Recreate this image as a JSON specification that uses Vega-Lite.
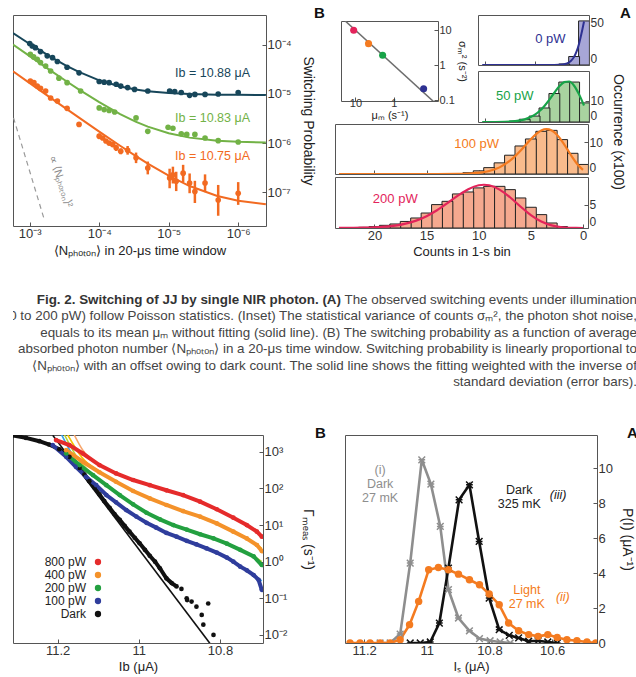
{
  "$schema": "https://vega.github.io/schema/vega-lite/v6.json",
  "background": "white",
  "padding": {"left": 12, "top": 5, "right": 0, "bottom": 0},
  "config": {
    "font": "Liberation Sans",
    "view": {"stroke": "#555", "strokeWidth": 1},
    "axis": {"domain": false, "grid": false, "tickColor": "#555", "tickSize": -4, "labelPadding": 5, "labelFontSize": 12, "labelColor": "#333", "labelFont": "Liberation Sans", "titleFont": "Liberation Sans", "titleFontSize": 13, "titleFontWeight": "normal", "titleColor": "#222"},
    "title": {"fontSize": 15, "fontWeight": "bold", "color": "#111", "offset": -6, "frame": "group", "font": "Liberation Sans"},
    "text": {"font": "Liberation Sans"}
  },
  "resolve": {"scale": {"color": "independent", "fill": "independent", "stroke": "independent"}},
  "spacing": 21,
  "vconcat": [
    {
      "resolve": {"scale": {"color": "independent", "fill": "independent", "stroke": "independent"}},
      "spacing": 8,
      "hconcat": [
        {
          "width": 253, "height": 211,
          "title": {"text": "B", "anchor": "end", "align": "left", "dx": 48},
          "layer": [
            {
              "data": {"values": [{"N": 0.00171, "P": 3.27e-6}, {"N": 0.000626, "P": 2.95e-8}]},
              "mark": {"type": "line", "color": "#9a9a9a", "strokeWidth": 1.2, "strokeDash": [5, 4], "clip": true},
              "encoding": {
                "x": {"field": "N", "type": "quantitative", "scale": {"type": "log", "domain": [3.98e-7, 0.00174], "reverse": true},
                  "axis": {"values": [0.000001, 0.00001, 0.0001, 0.001], "labelExpr": "'10' + (datum.value < 1 ? '⁻' : '') + ['⁰','¹','²','³','⁴','⁵','⁶','⁷','⁸','⁹'][abs(round(log(datum.value)/LN10))]", "labelFontSize": 13, "title": "⟨Nₚₕₒₜₒₙ⟩ in 20-μs time window", "titlePadding": 4}},
                "y": {"field": "P", "type": "quantitative", "scale": {"type": "log", "domain": [2.04e-8, 0.000407]},
                  "axis": {"orient": "right", "values": [1e-7, 0.000001, 0.00001, 0.0001], "labelExpr": "'10' + (datum.value < 1 ? '⁻' : '') + ['⁰','¹','²','³','⁴','⁵','⁶','⁷','⁸','⁹'][abs(round(log(datum.value)/LN10))]", "labelFontSize": 13, "title": "Switching Probability", "titleFontSize": 14, "titlePadding": 9}}
              }
            },
            {
              "data": {"values": [
                {"s": "10.88", "N": 0.00174, "P": 0.0001748}, {"s": "10.88", "N": 0.001, "P": 0.0001045}, {"s": "10.88", "N": 0.0005, "P": 0.000057}, {"s": "10.88", "N": 0.0003, "P": 0.000038}, {"s": "10.88", "N": 0.0002, "P": 0.0000285}, {"s": "10.88", "N": 0.0001, "P": 0.000019}, {"s": "10.88", "N": 0.00005, "P": 0.00001425}, {"s": "10.88", "N": 0.00003, "P": 0.00001235}, {"s": "10.88", "N": 0.00002, "P": 0.0000114}, {"s": "10.88", "N": 0.00001, "P": 0.00001045}, {"s": "10.88", "N": 0.000005, "P": 0.00000998}, {"s": "10.88", "N": 0.000002, "P": 0.00000969}, {"s": "10.88", "N": 0.000001, "P": 0.0000096}, {"s": "10.88", "N": 4e-7, "P": 0.00000954},
                {"s": "10.83", "N": 0.00174, "P": 0.0001019}, {"s": "10.83", "N": 0.001, "P": 0.000059}, {"s": "10.83", "N": 0.0005, "P": 0.00003}, {"s": "10.83", "N": 0.0003, "P": 0.0000184}, {"s": "10.83", "N": 0.0002, "P": 0.0000126}, {"s": "10.83", "N": 0.0001, "P": 0.0000068}, {"s": "10.83", "N": 0.00005, "P": 0.0000039}, {"s": "10.83", "N": 0.00003, "P": 0.00000274}, {"s": "10.83", "N": 0.00002, "P": 0.00000216}, {"s": "10.83", "N": 0.00001, "P": 0.00000158}, {"s": "10.83", "N": 0.000005, "P": 0.00000129}, {"s": "10.83", "N": 0.000002, "P": 0.000001116}, {"s": "10.83", "N": 0.000001, "P": 0.000001058}, {"s": "10.83", "N": 4e-7, "P": 0.000001023},
                {"s": "10.75", "N": 0.00174, "P": 0.00002893}, {"s": "10.75", "N": 0.001, "P": 0.00001665}, {"s": "10.75", "N": 0.0005, "P": 0.00000835}, {"s": "10.75", "N": 0.0003, "P": 0.00000503}, {"s": "10.75", "N": 0.0002, "P": 0.00000337}, {"s": "10.75", "N": 0.0001, "P": 0.00000171}, {"s": "10.75", "N": 0.00005, "P": 8.8e-7}, {"s": "10.75", "N": 0.00003, "P": 5.48e-7}, {"s": "10.75", "N": 0.00002, "P": 3.82e-7}, {"s": "10.75", "N": 0.00001, "P": 2.16e-7}, {"s": "10.75", "N": 0.000005, "P": 1.33e-7}, {"s": "10.75", "N": 0.000002, "P": 8.32e-8}, {"s": "10.75", "N": 0.000001, "P": 6.66e-8}, {"s": "10.75", "N": 4e-7, "P": 5.66e-8}
              ]},
              "mark": {"type": "line", "strokeWidth": 2, "clip": true},
              "encoding": {
                "x": {"field": "N", "type": "quantitative", "scale": {"type": "log", "domain": [3.98e-7, 0.00174], "reverse": true}},
                "y": {"field": "P", "type": "quantitative", "scale": {"type": "log", "domain": [2.04e-8, 0.000407]}},
                "color": {"field": "s", "type": "nominal", "scale": {"domain": ["10.88", "10.83", "10.75"], "range": ["#17465a", "#72b246", "#f26a21"]}, "legend": null}
              }
            },
            {
              "data": {"values": [
                {"N": 0.0001, "lo": 0.0000012, "hi": 0.00000155}, {"N": 0.000057, "lo": 6.9e-7, "hi": 9.2e-7}, {"N": 0.000049, "lo": 5.9e-7, "hi": 7.8e-7},
                {"N": 0.000039, "lo": 5.8e-7, "hi": 8.7e-7}, {"N": 0.0000295, "lo": 3.9e-7, "hi": 6.4e-7}, {"N": 0.00002, "lo": 2.3e-7, "hi": 4.2e-7},
                {"N": 0.0000097, "lo": 1.2e-7, "hi": 3.0e-7}, {"N": 0.0000087, "lo": 1.5e-7, "hi": 3.3e-7}, {"N": 0.0000078, "lo": 1.05e-7, "hi": 2.6e-7},
                {"N": 0.0000062, "lo": 1.6e-7, "hi": 3.6e-7}, {"N": 0.000005, "lo": 9.5e-8, "hi": 2.4e-7}, {"N": 0.0000042, "lo": 6e-8, "hi": 1.7e-7},
                {"N": 0.000003, "lo": 1.0e-7, "hi": 2.3e-7}, {"N": 0.00000194, "lo": 3.3e-8, "hi": 1.4e-7}, {"N": 0.000001, "lo": 5.5e-8, "hi": 1.6e-7}
              ]},
              "mark": {"type": "rule", "color": "#f26a21", "strokeWidth": 2.5, "clip": true},
              "encoding": {
                "x": {"field": "N", "type": "quantitative", "scale": {"type": "log", "domain": [3.98e-7, 0.00174], "reverse": true}},
                "y": {"field": "lo", "type": "quantitative", "scale": {"type": "log", "domain": [2.04e-8, 0.000407]}},
                "y2": {"field": "hi"}
              }
            },
            {
              "data": {"values": [
                {"s": "10.88", "N": 0.001, "P": 0.000107}, {"s": "10.88", "N": 0.00092, "P": 0.000095}, {"s": "10.88", "N": 0.00083, "P": 0.000088}, {"s": "10.88", "N": 0.0007, "P": 0.000073}, {"s": "10.88", "N": 0.00056, "P": 0.00006}, {"s": "10.88", "N": 0.00047, "P": 0.000055}, {"s": "10.88", "N": 0.0004, "P": 0.000046}, {"s": "10.88", "N": 0.00029, "P": 0.000035}, {"s": "10.88", "N": 0.000195, "P": 0.000027}, {"s": "10.88", "N": 0.0001, "P": 0.000018}, {"s": "10.88", "N": 0.000085, "P": 0.0000174}, {"s": "10.88", "N": 0.000072, "P": 0.000017}, {"s": "10.88", "N": 0.000057, "P": 0.0000158}, {"s": "10.88", "N": 0.000049, "P": 0.0000145}, {"s": "10.88", "N": 0.000039, "P": 0.0000135}, {"s": "10.88", "N": 0.000031, "P": 0.0000124}, {"s": "10.88", "N": 0.00002, "P": 0.0000115}, {"s": "10.88", "N": 0.0000097, "P": 0.0000115}, {"s": "10.88", "N": 0.0000082, "P": 0.0000112}, {"s": "10.88", "N": 0.0000066, "P": 0.0000107}, {"s": "10.88", "N": 0.000005, "P": 0.0000094}, {"s": "10.88", "N": 0.0000042, "P": 0.0000098}, {"s": "10.88", "N": 0.000003, "P": 0.0000098}, {"s": "10.88", "N": 0.00000194, "P": 0.00001}, {"s": "10.88", "N": 0.000001, "P": 0.0000107},
                {"s": "10.83", "N": 0.00098, "P": 0.000064}, {"s": "10.83", "N": 0.00088, "P": 0.000057}, {"s": "10.83", "N": 0.00078, "P": 0.000051}, {"s": "10.83", "N": 0.0007, "P": 0.0000436}, {"s": "10.83", "N": 0.00059, "P": 0.000037}, {"s": "10.83", "N": 0.0005, "P": 0.0000294}, {"s": "10.83", "N": 0.00038, "P": 0.000021}, {"s": "10.83", "N": 0.00029, "P": 0.000017}, {"s": "10.83", "N": 0.000185, "P": 0.0000115}, {"s": "10.83", "N": 0.0001, "P": 0.0000052}, {"s": "10.83", "N": 0.000085, "P": 0.0000048}, {"s": "10.83", "N": 0.000072, "P": 0.0000046}, {"s": "10.83", "N": 0.00006, "P": 0.0000043}, {"s": "10.83", "N": 0.0000295, "P": 0.00000325}, {"s": "10.83", "N": 0.00002, "P": 0.00000173}, {"s": "10.83", "N": 0.0000102, "P": 0.0000021}, {"s": "10.83", "N": 0.0000087, "P": 0.000002}, {"s": "10.83", "N": 0.0000066, "P": 0.00000154}, {"s": "10.83", "N": 0.0000055, "P": 0.0000015}, {"s": "10.83", "N": 0.0000042, "P": 0.0000015}, {"s": "10.83", "N": 0.000003, "P": 0.00000127}, {"s": "10.83", "N": 0.00000194, "P": 0.00000112}, {"s": "10.83", "N": 0.000001, "P": 0.00000105},
                {"s": "10.75", "N": 0.00098, "P": 0.0000183}, {"s": "10.75", "N": 0.00087, "P": 0.000017}, {"s": "10.75", "N": 0.00078, "P": 0.0000145}, {"s": "10.75", "N": 0.0007, "P": 0.000013}, {"s": "10.75", "N": 0.00059, "P": 0.0000115}, {"s": "10.75", "N": 0.0005, "P": 0.0000083}, {"s": "10.75", "N": 0.0004, "P": 0.0000072}, {"s": "10.75", "N": 0.00029, "P": 0.0000051}, {"s": "10.75", "N": 0.000195, "P": 0.0000024}, {"s": "10.75", "N": 0.0001, "P": 0.00000138}, {"s": "10.75", "N": 0.000089, "P": 0.00000127}, {"s": "10.75", "N": 0.00008, "P": 0.0000011}, {"s": "10.75", "N": 0.000072, "P": 0.000001}, {"s": "10.75", "N": 0.000064, "P": 9.3e-7}, {"s": "10.75", "N": 0.000057, "P": 8e-7}, {"s": "10.75", "N": 0.000049, "P": 6.8e-7}, {"s": "10.75", "N": 0.000039, "P": 7.1e-7}, {"s": "10.75", "N": 0.0000295, "P": 5e-7}, {"s": "10.75", "N": 0.00002, "P": 3.1e-7}, {"s": "10.75", "N": 0.0000097, "P": 1.94e-7}, {"s": "10.75", "N": 0.0000087, "P": 2.26e-7}, {"s": "10.75", "N": 0.0000078, "P": 1.66e-7}, {"s": "10.75", "N": 0.0000062, "P": 2.43e-7}, {"s": "10.75", "N": 0.000005, "P": 1.53e-7}, {"s": "10.75", "N": 0.0000042, "P": 1.03e-7}, {"s": "10.75", "N": 0.000003, "P": 1.53e-7}, {"s": "10.75", "N": 0.00000194, "P": 6.9e-8}, {"s": "10.75", "N": 0.000001, "P": 9.5e-8}
              ]},
              "mark": {"type": "circle", "size": 32, "opacity": 1, "clip": true},
              "encoding": {
                "x": {"field": "N", "type": "quantitative", "scale": {"type": "log", "domain": [3.98e-7, 0.00174], "reverse": true}},
                "y": {"field": "P", "type": "quantitative", "scale": {"type": "log", "domain": [2.04e-8, 0.000407]}},
                "color": {"field": "s", "type": "nominal", "scale": {"domain": ["10.88", "10.83", "10.75"], "range": ["#17465a", "#72b246", "#f26a21"]}, "legend": null}
              }
            },
            {
              "data": {"values": [{}]},
              "mark": {"type": "text", "text": "Ib = 10.88 μA", "color": "#17465a", "fontSize": 12.5, "align": "center", "baseline": "middle"},
              "encoding": {
                "x": {"datum": 0.00000234, "type": "quantitative", "scale": {"type": "log", "domain": [3.98e-7, 0.00174], "reverse": true}},
                "y": {"datum": 0.000027, "type": "quantitative", "scale": {"type": "log", "domain": [2.04e-8, 0.000407]}}
              }
            },
            {
              "data": {"values": [{}]},
              "mark": {"type": "text", "text": "Ib = 10.83 μA", "color": "#72b246", "fontSize": 12.5, "align": "center", "baseline": "middle"},
              "encoding": {
                "x": {"datum": 0.00000234, "type": "quantitative", "scale": {"type": "log", "domain": [3.98e-7, 0.00174], "reverse": true}},
                "y": {"datum": 0.0000032, "type": "quantitative", "scale": {"type": "log", "domain": [2.04e-8, 0.000407]}}
              }
            },
            {
              "data": {"values": [{}]},
              "mark": {"type": "text", "text": "Ib = 10.75 μA", "color": "#f26a21", "fontSize": 12.5, "align": "center", "baseline": "middle"},
              "encoding": {
                "x": {"datum": 0.00000234, "type": "quantitative", "scale": {"type": "log", "domain": [3.98e-7, 0.00174], "reverse": true}},
                "y": {"datum": 5.4e-7, "type": "quantitative", "scale": {"type": "log", "domain": [2.04e-8, 0.000407]}}
              }
            },
            {
              "data": {"values": [{}]},
              "mark": {"type": "text", "text": "∝ ⟨Nₚₕₒₜₒₙ⟩²", "color": "#8a8a8a", "fontSize": 11, "angle": 72, "align": "center", "baseline": "middle"},
              "encoding": {
                "x": {"datum": 0.00036, "type": "quantitative", "scale": {"type": "log", "domain": [3.98e-7, 0.00174], "reverse": true}},
                "y": {"datum": 1.66e-7, "type": "quantitative", "scale": {"type": "log", "domain": [2.04e-8, 0.000407]}}
              }
            }
          ]
        },
        {
          "title": {"text": "Occurrence (x100)", "orient": "right", "anchor": "middle", "frame": "bounds", "offset": -20, "fontSize": 14, "fontWeight": "normal", "color": "#222"},
          "spacing": 0,
          "vconcat": [
            {
              "spacing": 9,
              "hconcat": [
                {
                  "spacing": 4,
                  "hconcat": [
                    {"width": 1, "height": 1, "view": {"stroke": null}, "data": {"values": []}, "mark": "point", "encoding": {}},
                    {
                      "spacing": 4,
                      "vconcat": [
                        {"width": 1, "height": 1, "view": {"stroke": null}, "data": {"values": []}, "mark": "point", "encoding": {}},
                        {
                          "width": 97, "height": 80,
                          "layer": [
                            {
                              "data": {"values": [{"m": 0.05, "v": 0.05}, {"m": 30, "v": 30}]},
                              "mark": {"type": "line", "color": "#6d6d6d", "strokeWidth": 1.5, "clip": true},
                              "encoding": {
                                "x": {"field": "m", "type": "quantitative", "scale": {"type": "log", "domain": [0.07, 23.8], "reverse": true},
                                  "axis": {"values": [1, 10], "format": "~g", "labelFontSize": 11, "labelPadding": 0, "title": "μₘ (s⁻¹)", "titleFontSize": 11, "titleBaseline": "middle", "titleY": 14}},
                                "y": {"field": "v", "type": "quantitative", "scale": {"type": "log", "domain": [0.095, 18.4]},
                                  "axis": {"orient": "right", "values": [0.1, 1, 10], "format": "~g", "labelFontSize": 11, "title": "σₘ² (s⁻²)", "titleFontSize": 11, "titlePadding": 2}}
                              }
                            },
                            {
                              "data": {"values": [
                                {"m": 11.1, "v": 10, "p": "200 pW"}, {"m": 4.55, "v": 4.14, "p": "100 pW"}, {"m": 1.95, "v": 1.93, "p": "50 pW"}, {"m": 0.166, "v": 0.214, "p": "0 pW"}
                              ]},
                              "mark": {"type": "circle", "size": 50, "opacity": 1},
                              "encoding": {
                                "x": {"field": "m", "type": "quantitative", "scale": {"type": "log", "domain": [0.07, 23.8], "reverse": true}},
                                "y": {"field": "v", "type": "quantitative", "scale": {"type": "log", "domain": [0.095, 18.4]}},
                                "color": {"field": "p", "type": "nominal", "scale": {"domain": ["0 pW", "50 pW", "100 pW", "200 pW"], "range": ["#2e3192", "#17a348", "#f47b20", "#e3245b"]}, "legend": null}
                              }
                            }
                          ]
                        }
                      ]
                    }
                  ]
                },
                {
                  "spacing": 4,
                  "vconcat": [
                    {
                      "width": 111, "height": 50,
                      "title": {"text": "A", "anchor": "end", "align": "left", "dx": 31},
                      "layer": [
                        {
                          "data": {"values": [{"c": 0, "n": 52}, {"c": 1, "n": 10}, {"c": 2, "n": 1.2}]},
                          "mark": {"type": "bar", "orient": "vertical", "width": 10.86, "fill": "#a7a6d6", "stroke": "#222", "strokeWidth": 1, "clip": true},
                          "encoding": {
                            "x": {"field": "c", "type": "quantitative", "scale": {"domain": [0, 10.22], "reverse": true, "nice": false, "zero": false}, "axis": {"values": [0, 5, 10], "labels": false, "title": null}},
                            "y": {"field": "n", "type": "quantitative", "stack": null, "scale": {"domain": [0, 59], "nice": false}, "axis": {"orient": "right", "values": [0, 25, 50], "labelFlush": true, "title": null}}
                          }
                        },
                        {
                          "data": {"values": [{"c": 0, "n": 51.3}, {"c": 0.25, "n": 37.4}, {"c": 0.5, "n": 25.2}, {"c": 0.75, "n": 16.1}, {"c": 1, "n": 9.75}, {"c": 1.25, "n": 5.7}, {"c": 1.5, "n": 3.2}, {"c": 2, "n": 0.93}, {"c": 2.5, "n": 0.25}, {"c": 3, "n": 0.06}, {"c": 4, "n": 0.003}, {"c": 6, "n": 0}, {"c": 10.3, "n": 0}]},
                          "mark": {"type": "line", "color": "#2e3192", "strokeWidth": 2, "interpolate": "monotone", "clip": true},
                          "encoding": {
                            "x": {"field": "c", "type": "quantitative", "scale": {"domain": [0, 10.22], "reverse": true, "nice": false, "zero": false}},
                            "y": {"field": "n", "type": "quantitative", "scale": {"domain": [0, 59], "nice": false}}
                          }
                        },
                        {
                          "data": {"values": [{}]},
                          "mark": {"type": "text", "text": "0 pW", "color": "#2e3192", "fontSize": 13, "align": "center", "baseline": "middle"},
                          "encoding": {
                            "x": {"datum": 3.4, "type": "quantitative", "scale": {"domain": [0, 10.22], "reverse": true, "nice": false, "zero": false}},
                            "y": {"datum": 30.7, "type": "quantitative", "scale": {"domain": [0, 59], "nice": false}}
                          }
                        }
                      ]
                    },
                    {
                      "width": 111, "height": 51,
                      "layer": [
                        {
                          "data": {"values": [{"c": 0, "n": 9}, {"c": 1, "n": 18.8}, {"c": 2, "n": 18.8}, {"c": 3, "n": 13.4}, {"c": 4, "n": 6.6}, {"c": 5, "n": 2.8}, {"c": 6, "n": 1.3}, {"c": 7, "n": 0.4}]},
                          "mark": {"type": "bar", "orient": "vertical", "width": 10.86, "fill": "#a9d3a0", "stroke": "#222", "strokeWidth": 1, "clip": true},
                          "encoding": {
                            "x": {"field": "c", "type": "quantitative", "scale": {"domain": [0, 10.22], "reverse": true, "nice": false, "zero": false}, "axis": {"values": [0, 5, 10], "labels": false, "title": null}},
                            "y": {"field": "n", "type": "quantitative", "stack": null, "scale": {"domain": [0, 24], "nice": false}, "axis": {"orient": "right", "values": [0, 10], "labelFlush": true, "title": null}}
                          }
                        },
                        {
                          "data": {"values": [{"c": 0, "n": 7.76}, {"c": 0.5, "n": 13}, {"c": 1, "n": 17.07}, {"c": 1.5, "n": 19.05}, {"c": 2, "n": 18.78}, {"c": 2.5, "n": 16.77}, {"c": 3, "n": 13.77}, {"c": 3.5, "n": 10.54}, {"c": 4, "n": 7.57}, {"c": 4.5, "n": 5.15}, {"c": 5, "n": 3.33}, {"c": 6, "n": 1.22}, {"c": 7, "n": 0.38}, {"c": 8, "n": 0.11}, {"c": 10.3, "n": 0.005}]},
                          "mark": {"type": "line", "color": "#17a348", "strokeWidth": 2.2, "interpolate": "monotone", "clip": true},
                          "encoding": {
                            "x": {"field": "c", "type": "quantitative", "scale": {"domain": [0, 10.22], "reverse": true, "nice": false, "zero": false}},
                            "y": {"field": "n", "type": "quantitative", "scale": {"domain": [0, 24], "nice": false}}
                          }
                        },
                        {
                          "data": {"values": [{}]},
                          "mark": {"type": "text", "text": "50 pW", "color": "#17a348", "fontSize": 13, "align": "center", "baseline": "middle"},
                          "encoding": {
                            "x": {"datum": 7.0, "type": "quantitative", "scale": {"domain": [0, 10.22], "reverse": true, "nice": false, "zero": false}},
                            "y": {"datum": 12.2, "type": "quantitative", "scale": {"domain": [0, 24], "nice": false}}
                          }
                        }
                      ]
                    }
                  ]
                }
              ]
            },
            {
              "spacing": 1,
              "vconcat": [
                {
                  "width": 253, "height": 50,
                  "layer": [
                    {
                      "data": {"values": [{"c": 0, "n": 3}, {"c": 1, "n": 6.5}, {"c": 2, "n": 10.8}, {"c": 3, "n": 13.7}, {"c": 4, "n": 13.4}, {"c": 5, "n": 11.0}, {"c": 6, "n": 8.8}, {"c": 7, "n": 5.9}, {"c": 8, "n": 3.5}, {"c": 9, "n": 2.0}, {"c": 10, "n": 1.0}, {"c": 11, "n": 0.4}, {"c": 12, "n": 0.15}]},
                      "mark": {"type": "bar", "orient": "vertical", "width": 10.86, "fill": "#f9bb8c", "stroke": "#222", "strokeWidth": 1, "clip": true},
                      "encoding": {
                        "x": {"field": "c", "type": "quantitative", "scale": {"domain": [0, 23.3], "reverse": true, "nice": false, "zero": false}, "axis": {"values": [0, 5, 10, 15, 20], "labels": false, "title": null}},
                        "y": {"field": "n", "type": "quantitative", "stack": null, "scale": {"domain": [0, 15.7], "nice": false}, "axis": {"orient": "right", "values": [0, 10], "labelFlush": true, "title": null}}
                      }
                    },
                    {
                      "data": {"values": [{"c": 0, "n": 1.28}, {"c": 0.5, "n": 2.89}, {"c": 1, "n": 5.13}, {"c": 1.5, "n": 7.72}, {"c": 2, "n": 10.26}, {"c": 2.5, "n": 12.35}, {"c": 3, "n": 13.68}, {"c": 3.5, "n": 14.1}, {"c": 4, "n": 13.68}, {"c": 4.5, "n": 12.54}, {"c": 5, "n": 10.94}, {"c": 5.5, "n": 9.12}, {"c": 6, "n": 7.3}, {"c": 6.5, "n": 5.61}, {"c": 7, "n": 4.17}, {"c": 8, "n": 2.08}, {"c": 9, "n": 0.93}, {"c": 10, "n": 0.37}, {"c": 11, "n": 0.135}, {"c": 12, "n": 0.045}, {"c": 14, "n": 0.004}, {"c": 23.4, "n": 0}]},
                      "mark": {"type": "line", "color": "#f47b20", "strokeWidth": 2.2, "interpolate": "monotone", "clip": true},
                      "encoding": {
                        "x": {"field": "c", "type": "quantitative", "scale": {"domain": [0, 23.3], "reverse": true, "nice": false, "zero": false}},
                        "y": {"field": "n", "type": "quantitative", "scale": {"domain": [0, 15.7], "nice": false}}
                      }
                    },
                    {
                      "data": {"values": [{}]},
                      "mark": {"type": "text", "text": "100 pW", "color": "#f47b20", "fontSize": 13, "align": "center", "baseline": "middle"},
                      "encoding": {
                        "x": {"datum": 10.2, "type": "quantitative", "scale": {"domain": [0, 23.3], "reverse": true, "nice": false, "zero": false}},
                        "y": {"datum": 9.5, "type": "quantitative", "scale": {"domain": [0, 15.7], "nice": false}}
                      }
                    }
                  ]
                },
                {
                  "width": 253, "height": 51,
                  "layer": [
                    {
                      "data": {"values": [{"c": 1, "n": 0.05}, {"c": 2, "n": 0.3}, {"c": 3, "n": 1.07}, {"c": 4, "n": 2.86}, {"c": 5, "n": 4.43}, {"c": 6, "n": 6.42}, {"c": 7, "n": 8.2}, {"c": 8, "n": 8.9}, {"c": 9, "n": 8.9}, {"c": 10, "n": 8.57}, {"c": 11, "n": 7.7}, {"c": 12, "n": 7.28}, {"c": 13, "n": 5.7}, {"c": 14, "n": 5.0}, {"c": 15, "n": 3.2}, {"c": 16, "n": 2.14}, {"c": 17, "n": 1.4}, {"c": 18, "n": 0.86}, {"c": 19, "n": 0.57}, {"c": 20, "n": 0.3}, {"c": 21, "n": 0.15}, {"c": 22, "n": 0.05}]},
                      "mark": {"type": "bar", "orient": "vertical", "width": 10.86, "fill": "#f5a98f", "stroke": "#222", "strokeWidth": 1, "clip": true},
                      "encoding": {
                        "x": {"field": "c", "type": "quantitative", "scale": {"domain": [0, 23.3], "reverse": true, "nice": false, "zero": false}, "axis": {"values": [0, 5, 10, 15, 20], "labelFontSize": 13, "title": "Counts in 1-s bin", "titlePadding": 3}},
                        "y": {"field": "n", "type": "quantitative", "stack": null, "scale": {"domain": [0, 10.9], "nice": false}, "axis": {"orient": "right", "values": [0, 5], "labelFlush": true, "title": null}}
                      }
                    },
                    {
                      "data": {"values": [{"c": 0, "n": 0}, {"c": 1, "n": 0.02}, {"c": 2, "n": 0.166}, {"c": 3, "n": 0.552}, {"c": 4, "n": 1.38}, {"c": 5, "n": 2.76}, {"c": 6, "n": 4.6}, {"c": 7, "n": 6.57}, {"c": 8, "n": 8.21}, {"c": 9, "n": 9.13}, {"c": 9.5, "n": 9.24}, {"c": 10, "n": 9.13}, {"c": 11, "n": 8.3}, {"c": 12, "n": 6.92}, {"c": 13, "n": 5.32}, {"c": 14, "n": 3.8}, {"c": 15, "n": 2.53}, {"c": 16, "n": 1.58}, {"c": 17, "n": 0.94}, {"c": 18, "n": 0.51}, {"c": 19, "n": 0.28}, {"c": 20, "n": 0.13}, {"c": 21, "n": 0.06}, {"c": 22, "n": 0.03}, {"c": 23.4, "n": 0.01}]},
                      "mark": {"type": "line", "color": "#e3245b", "strokeWidth": 2.2, "interpolate": "monotone", "clip": true},
                      "encoding": {
                        "x": {"field": "c", "type": "quantitative", "scale": {"domain": [0, 23.3], "reverse": true, "nice": false, "zero": false}},
                        "y": {"field": "n", "type": "quantitative", "scale": {"domain": [0, 10.9], "nice": false}}
                      }
                    },
                    {
                      "data": {"values": [{}]},
                      "mark": {"type": "text", "text": "200 pW", "color": "#e3245b", "fontSize": 13, "align": "center", "baseline": "middle"},
                      "encoding": {
                        "x": {"datum": 18.0, "type": "quantitative", "scale": {"domain": [0, 23.3], "reverse": true, "nice": false, "zero": false}},
                        "y": {"datum": 6.3, "type": "quantitative", "scale": {"domain": [0, 10.9], "nice": false}}
                      }
                    }
                  ]
                }
              ]
            }
          ]
        }
      ]
    },
    {
      "width": 624, "height": 124,
      "view": {"stroke": null},
      "layer": [
        {
          "data": {"values": [
            {"line": 1, "text": "The observed switching events under illumination"},
            {"line": 2, "text": "(0 to 200 pW) follow Poisson statistics. (Inset) The statistical variance of counts σₘ², the photon shot noise,"},
            {"line": 3, "text": "equals to its mean μₘ without fitting (solid line). (B) The switching probability as a function of average"},
            {"line": 4, "text": "absorbed photon number ⟨Nₚₕₒₜₒₙ⟩ in a 20-μs time window. Switching probability is linearly proportional to"},
            {"line": 5, "text": "⟨Nₚₕₒₜₒₙ⟩ with an offset owing to dark count. The solid line shows the fitting weighted with the inverse of"},
            {"line": 6, "text": "standard deviation (error bars)."}
          ]},
          "mark": {"type": "text", "align": "right", "baseline": "middle", "fontSize": 13.4, "color": "#444", "clip": true},
          "encoding": {
            "x": {"datum": 1, "type": "quantitative", "scale": {"domain": [0, 1]}, "axis": null},
            "y": {"field": "line", "type": "quantitative", "scale": {"domain": [-0.22, 7.341], "reverse": true, "nice": false, "zero": false}, "axis": null},
            "text": {"field": "text"}
          }
        },
        {
          "data": {"values": [{"line": 1, "text": "Fig. 2. Switching of JJ by single NIR photon. (A)"}]},
          "mark": {"type": "text", "align": "right", "baseline": "middle", "fontSize": 13.4, "fontWeight": "bold", "color": "#333", "dx": -296, "clip": true},
          "encoding": {
            "x": {"datum": 1, "type": "quantitative", "scale": {"domain": [0, 1]}},
            "y": {"field": "line", "type": "quantitative", "scale": {"domain": [-0.22, 7.341], "reverse": true, "nice": false, "zero": false}},
            "text": {"field": "text"}
          }
        }
      ]
    },
    {
      "resolve": {"scale": {"color": "independent", "fill": "independent", "stroke": "independent"}},
      "spacing": 17,
      "hconcat": [
        {
          "width": 250, "height": 208,
          "title": {"text": "B", "anchor": "end", "align": "left", "dx": 52},
          "layer": [
            {
              "data": {"values": [
                {"s": "Dark", "I": 11.212, "G": 2818}, {"s": "Dark", "I": 10.825, "G": 0.0059},
                {"s": "100 pW", "I": 11.19, "G": 2880}, {"s": "100 pW", "I": 11.16, "G": 700}, {"s": "100 pW", "I": 11.13, "G": 220}, {"s": "100 pW", "I": 11.1, "G": 100}, {"s": "100 pW", "I": 11.056, "G": 42}, {"s": "100 pW", "I": 11.006, "G": 17}, {"s": "100 pW", "I": 10.957, "G": 8.5}, {"s": "100 pW", "I": 10.907, "G": 4.8}, {"s": "100 pW", "I": 10.858, "G": 2.95}, {"s": "100 pW", "I": 10.808, "G": 1.77}, {"s": "100 pW", "I": 10.767, "G": 1.0}, {"s": "100 pW", "I": 10.734, "G": 0.6}, {"s": "100 pW", "I": 10.697, "G": 0.3},
                {"s": "200 pW", "I": 11.183, "G": 2880}, {"s": "200 pW", "I": 11.15, "G": 650}, {"s": "200 pW", "I": 11.113, "G": 240}, {"s": "200 pW", "I": 11.08, "G": 125}, {"s": "200 pW", "I": 11.047, "G": 66}, {"s": "200 pW", "I": 11.014, "G": 37}, {"s": "200 pW", "I": 10.981, "G": 22}, {"s": "200 pW", "I": 10.948, "G": 14.5}, {"s": "200 pW", "I": 10.915, "G": 10.2}, {"s": "200 pW", "I": 10.882, "G": 7.6}, {"s": "200 pW", "I": 10.849, "G": 5.7}, {"s": "200 pW", "I": 10.816, "G": 4.3}, {"s": "200 pW", "I": 10.783, "G": 3.1}, {"s": "200 pW", "I": 10.75, "G": 2.15}, {"s": "200 pW", "I": 10.717, "G": 1.4}, {"s": "200 pW", "I": 10.697, "G": 1.0},
                {"s": "400 pW", "I": 11.175, "G": 2880}, {"s": "400 pW", "I": 11.14, "G": 700}, {"s": "400 pW", "I": 11.097, "G": 290}, {"s": "400 pW", "I": 11.056, "G": 155}, {"s": "400 pW", "I": 11.014, "G": 87}, {"s": "400 pW", "I": 10.973, "G": 54}, {"s": "400 pW", "I": 10.932, "G": 35.5}, {"s": "400 pW", "I": 10.891, "G": 24.5}, {"s": "400 pW", "I": 10.849, "G": 17}, {"s": "400 pW", "I": 10.808, "G": 11.2}, {"s": "400 pW", "I": 10.767, "G": 6.8}, {"s": "400 pW", "I": 10.734, "G": 4.4}, {"s": "400 pW", "I": 10.697, "G": 2.3},
                {"s": "800 pW", "I": 11.159, "G": 2880}, {"s": "800 pW", "I": 11.138, "G": 1100}, {"s": "800 pW", "I": 11.097, "G": 450}, {"s": "800 pW", "I": 11.056, "G": 260}, {"s": "800 pW", "I": 11.014, "G": 172}, {"s": "800 pW", "I": 10.973, "G": 124}, {"s": "800 pW", "I": 10.932, "G": 90}, {"s": "800 pW", "I": 10.891, "G": 66}, {"s": "800 pW", "I": 10.849, "G": 44}, {"s": "800 pW", "I": 10.808, "G": 27.5}, {"s": "800 pW", "I": 10.767, "G": 16}, {"s": "800 pW", "I": 10.734, "G": 10.2}, {"s": "800 pW", "I": 10.697, "G": 5.2}
              ]},
              "mark": {"type": "line", "strokeWidth": 1.6, "clip": true, "interpolate": "monotone"},
              "encoding": {
                "x": {"field": "I", "type": "quantitative", "scale": {"domain": [10.694, 11.31], "reverse": true, "nice": false, "zero": false},
                  "axis": {"values": [10.8, 11, 11.2], "format": "~g", "labelFontSize": 13, "title": "Ib (μA)", "titlePadding": 3}},
                "y": {"field": "G", "type": "quantitative", "scale": {"type": "log", "domain": [0.006, 2880]},
                  "axis": {"orient": "right", "values": [0.01, 0.1, 1, 10, 100, 1000], "labelExpr": "'10' + (datum.value < 1 ? '⁻' : '') + ['⁰','¹','²','³','⁴','⁵','⁶','⁷','⁸','⁹'][abs(round(log(datum.value)/LN10))]", "labelFontSize": 13, "title": "Γₘₑₐₛ (s⁻¹)", "titleFontSize": 14, "titlePadding": 14}},
                "stroke": {"field": "s", "type": "nominal", "scale": {"domain": ["800 pW", "400 pW", "200 pW", "100 pW", "Dark"], "range": ["#f7a66b", "#f5c400", "#b5d334", "#36a3e8", "#111111"]}, "legend": null}
              }
            },
            {
              "data": {"values": [
                {"s": "Dark", "I": 11.311, "G": 2830}, {"s": "Dark", "I": 11.278, "G": 2400}, {"s": "Dark", "I": 11.245, "G": 1950}, {"s": "Dark", "I": 11.221, "G": 1585}, {"s": "Dark", "I": 11.196, "G": 1175}, {"s": "Dark", "I": 11.171, "G": 730}, {"s": "Dark", "I": 11.146, "G": 363}, {"s": "Dark", "I": 11.134, "G": 240}, {"s": "Dark", "I": 11.122, "G": 158}, {"s": "Dark", "I": 11.109, "G": 105}, {"s": "Dark", "I": 11.097, "G": 69}, {"s": "Dark", "I": 11.085, "G": 45}, {"s": "Dark", "I": 11.072, "G": 29.5}, {"s": "Dark", "I": 11.06, "G": 20}, {"s": "Dark", "I": 11.047, "G": 13.8}, {"s": "Dark", "I": 11.035, "G": 9.5}, {"s": "Dark", "I": 11.023, "G": 6.6}, {"s": "Dark", "I": 11.01, "G": 4.5}, {"s": "Dark", "I": 10.998, "G": 3.16}, {"s": "Dark", "I": 10.985, "G": 2.1}, {"s": "Dark", "I": 10.973, "G": 1.45}, {"s": "Dark", "I": 10.96, "G": 1.0}, {"s": "Dark", "I": 10.948, "G": 0.66}, {"s": "Dark", "I": 10.932, "G": 0.35}, {"s": "Dark", "I": 10.919, "G": 0.26}, {"s": "Dark", "I": 10.907, "G": 0.21}, {"s": "Dark", "I": 10.895, "G": 0.18}, {"s": "Dark", "I": 10.882, "G": 0.1}, {"s": "Dark", "I": 10.881, "G": 0.089}, {"s": "Dark", "I": 10.87, "G": 0.081}, {"s": "Dark", "I": 10.858, "G": 0.059}, {"s": "Dark", "I": 10.845, "G": 0.035}, {"s": "Dark", "I": 10.841, "G": 0.019}, {"s": "Dark", "I": 10.829, "G": 0.072}, {"s": "Dark", "I": 10.816, "G": 0.01},
                {"s": "100 pW", "I": 11.212, "G": 1520}, {"s": "100 pW", "I": 11.179, "G": 730}, {"s": "100 pW", "I": 11.155, "G": 390}, {"s": "100 pW", "I": 11.13, "G": 208}, {"s": "100 pW", "I": 11.105, "G": 123}, {"s": "100 pW", "I": 11.08, "G": 66}, {"s": "100 pW", "I": 11.056, "G": 41.7}, {"s": "100 pW", "I": 11.031, "G": 25.7}, {"s": "100 pW", "I": 11.006, "G": 17}, {"s": "100 pW", "I": 10.981, "G": 11.5}, {"s": "100 pW", "I": 10.957, "G": 8.5}, {"s": "100 pW", "I": 10.932, "G": 6.1}, {"s": "100 pW", "I": 10.907, "G": 4.8}, {"s": "100 pW", "I": 10.882, "G": 3.7}, {"s": "100 pW", "I": 10.858, "G": 2.95}, {"s": "100 pW", "I": 10.833, "G": 2.3}, {"s": "100 pW", "I": 10.808, "G": 1.77}, {"s": "100 pW", "I": 10.783, "G": 1.29}, {"s": "100 pW", "I": 10.767, "G": 1.0}, {"s": "100 pW", "I": 10.75, "G": 0.73}, {"s": "100 pW", "I": 10.734, "G": 0.58}, {"s": "100 pW", "I": 10.717, "G": 0.43}, {"s": "100 pW", "I": 10.705, "G": 0.32}, {"s": "100 pW", "I": 10.697, "G": 0.17},
                {"s": "200 pW", "I": 11.179, "G": 900}, {"s": "200 pW", "I": 11.146, "G": 434}, {"s": "200 pW", "I": 11.113, "G": 231}, {"s": "200 pW", "I": 11.08, "G": 123}, {"s": "200 pW", "I": 11.047, "G": 66}, {"s": "200 pW", "I": 11.014, "G": 36.7}, {"s": "200 pW", "I": 10.981, "G": 21.7}, {"s": "200 pW", "I": 10.948, "G": 14.3}, {"s": "200 pW", "I": 10.915, "G": 10}, {"s": "200 pW", "I": 10.882, "G": 7.5}, {"s": "200 pW", "I": 10.849, "G": 5.6}, {"s": "200 pW", "I": 10.816, "G": 4.3}, {"s": "200 pW", "I": 10.783, "G": 3.1}, {"s": "200 pW", "I": 10.75, "G": 2.1}, {"s": "200 pW", "I": 10.717, "G": 1.39}, {"s": "200 pW", "I": 10.697, "G": 0.81},
                {"s": "400 pW", "I": 11.179, "G": 1110}, {"s": "400 pW", "I": 11.138, "G": 535}, {"s": "400 pW", "I": 11.097, "G": 277}, {"s": "400 pW", "I": 11.056, "G": 152}, {"s": "400 pW", "I": 11.014, "G": 85}, {"s": "400 pW", "I": 10.973, "G": 53.5}, {"s": "400 pW", "I": 10.932, "G": 35.3}, {"s": "400 pW", "I": 10.891, "G": 24}, {"s": "400 pW", "I": 10.849, "G": 17}, {"s": "400 pW", "I": 10.808, "G": 11.1}, {"s": "400 pW", "I": 10.767, "G": 6.6}, {"s": "400 pW", "I": 10.734, "G": 4.3}, {"s": "400 pW", "I": 10.709, "G": 2.85}, {"s": "400 pW", "I": 10.697, "G": 1.95},
                {"s": "800 pW", "I": 11.204, "G": 2090}, {"s": "800 pW", "I": 11.171, "G": 1520}, {"s": "800 pW", "I": 11.138, "G": 900}, {"s": "800 pW", "I": 11.097, "G": 434}, {"s": "800 pW", "I": 11.056, "G": 257}, {"s": "800 pW", "I": 11.014, "G": 170}, {"s": "800 pW", "I": 10.973, "G": 123}, {"s": "800 pW", "I": 10.932, "G": 89}, {"s": "800 pW", "I": 10.891, "G": 66}, {"s": "800 pW", "I": 10.849, "G": 43.5}, {"s": "800 pW", "I": 10.808, "G": 27}, {"s": "800 pW", "I": 10.767, "G": 15.9}, {"s": "800 pW", "I": 10.734, "G": 10}, {"s": "800 pW", "I": 10.709, "G": 6.6}, {"s": "800 pW", "I": 10.697, "G": 4.8}
              ]},
              "layer": [
                {
                  "transform": [{"filter": "datum.s != 'Dark' || datum.I > 10.9"}],
                  "mark": {"type": "line", "strokeWidth": 4, "clip": true},
                  "encoding": {
                    "x": {"field": "I", "type": "quantitative", "scale": {"domain": [10.694, 11.31], "reverse": true, "nice": false, "zero": false}},
                    "y": {"field": "G", "type": "quantitative", "scale": {"type": "log", "domain": [0.006, 2880]}},
                    "color": {"field": "s", "type": "nominal", "scale": {"domain": ["800 pW", "400 pW", "200 pW", "100 pW", "Dark"], "range": ["#e52b2b", "#f4922a", "#23a040", "#2f3d9c", "#111111"]}, "legend": null}
                  }
                },
                {
                  "mark": {"type": "circle", "size": 22, "opacity": 1, "clip": true},
                  "encoding": {
                    "x": {"field": "I", "type": "quantitative", "scale": {"domain": [10.694, 11.31], "reverse": true, "nice": false, "zero": false}},
                    "y": {"field": "G", "type": "quantitative", "scale": {"type": "log", "domain": [0.006, 2880]}},
                    "color": {"field": "s", "type": "nominal", "scale": {"domain": ["800 pW", "400 pW", "200 pW", "100 pW", "Dark"], "range": ["#e52b2b", "#f4922a", "#23a040", "#2f3d9c", "#111111"]}, "legend": null}
                  }
                }
              ]
            },
            {
              "data": {"values": [{}]},
              "mark": {"type": "text", "text": ["800 pW", "400 pW", "200 pW", "100 pW", "Dark"], "color": "#222", "fontSize": 12, "align": "right", "baseline": "middle", "lineHeight": 13},
              "encoding": {
                "x": {"datum": 11.13, "type": "quantitative", "scale": {"domain": [10.694, 11.31], "reverse": true, "nice": false, "zero": false}},
                "y": {"datum": 0.977, "type": "quantitative", "scale": {"type": "log", "domain": [0.006, 2880]}}
              }
            },
            {
              "data": {"values": [{}]},
              "mark": {"type": "circle", "size": 40, "opacity": 1, "color": "#e52b2b"},
              "encoding": {
                "x": {"datum": 11.1006, "type": "quantitative", "scale": {"domain": [10.694, 11.31], "reverse": true, "nice": false, "zero": false}},
                "y": {"datum": 0.977, "type": "quantitative", "scale": {"type": "log", "domain": [0.006, 2880]}}
              }
            },
            {
              "data": {"values": [{}]},
              "mark": {"type": "circle", "size": 40, "opacity": 1, "color": "#f4922a"},
              "encoding": {
                "x": {"datum": 11.1006, "type": "quantitative", "scale": {"domain": [10.694, 11.31], "reverse": true, "nice": false, "zero": false}},
                "y": {"datum": 0.431, "type": "quantitative", "scale": {"type": "log", "domain": [0.006, 2880]}}
              }
            },
            {
              "data": {"values": [{}]},
              "mark": {"type": "circle", "size": 40, "opacity": 1, "color": "#23a040"},
              "encoding": {
                "x": {"datum": 11.1006, "type": "quantitative", "scale": {"domain": [10.694, 11.31], "reverse": true, "nice": false, "zero": false}},
                "y": {"datum": 0.1905, "type": "quantitative", "scale": {"type": "log", "domain": [0.006, 2880]}}
              }
            },
            {
              "data": {"values": [{}]},
              "mark": {"type": "circle", "size": 40, "opacity": 1, "color": "#2f3d9c"},
              "encoding": {
                "x": {"datum": 11.1006, "type": "quantitative", "scale": {"domain": [10.694, 11.31], "reverse": true, "nice": false, "zero": false}},
                "y": {"datum": 0.0841, "type": "quantitative", "scale": {"type": "log", "domain": [0.006, 2880]}}
              }
            },
            {
              "data": {"values": [{}]},
              "mark": {"type": "circle", "size": 40, "opacity": 1, "color": "#111111"},
              "encoding": {
                "x": {"datum": 11.1006, "type": "quantitative", "scale": {"domain": [10.694, 11.31], "reverse": true, "nice": false, "zero": false}},
                "y": {"datum": 0.0372, "type": "quantitative", "scale": {"type": "log", "domain": [0.006, 2880]}}
              }
            }
          ]
        },
        {
          "width": 252, "height": 208,
          "title": {"text": "A", "anchor": "end", "align": "left", "dx": 30},
          "layer": [
            {
              "data": {"values": [
                {"s": "i", "I": 11.149, "P": 0}, {"s": "i", "I": 11.117, "P": 0}, {"s": "i", "I": 11.085, "P": 0.51}, {"s": "i", "I": 11.053, "P": 4.57}, {"s": "i", "I": 11.016, "P": 10.48}, {"s": "i", "I": 10.987, "P": 9.09}, {"s": "i", "I": 10.957, "P": 6.67}, {"s": "i", "I": 10.931, "P": 3.05}, {"s": "i", "I": 10.899, "P": 1.43}, {"s": "i", "I": 10.864, "P": 0.7}, {"s": "i", "I": 10.832, "P": 0.25}, {"s": "i", "I": 10.798, "P": 0.13}, {"s": "i", "I": 10.766, "P": 0.06}, {"s": "i", "I": 10.734, "P": 0},
                {"s": "iii", "I": 11.053, "P": 0}, {"s": "iii", "I": 11.021, "P": 0}, {"s": "iii", "I": 10.989, "P": 0.06}, {"s": "iii", "I": 10.96, "P": 1.14}, {"s": "iii", "I": 10.931, "P": 4.29}, {"s": "iii", "I": 10.897, "P": 8.19}, {"s": "iii", "I": 10.864, "P": 9.05}, {"s": "iii", "I": 10.833, "P": 5.81}, {"s": "iii", "I": 10.801, "P": 2.57}, {"s": "iii", "I": 10.769, "P": 0.76}, {"s": "iii", "I": 10.737, "P": 0.44}, {"s": "iii", "I": 10.707, "P": 0.29}, {"s": "iii", "I": 10.675, "P": 0.1}, {"s": "iii", "I": 10.645, "P": 0.13}, {"s": "iii", "I": 10.614, "P": 0.06}, {"s": "iii", "I": 10.584, "P": 0},
                {"s": "ii", "I": 11.245, "P": 0}, {"s": "ii", "I": 11.213, "P": 0}, {"s": "ii", "I": 11.181, "P": 0}, {"s": "ii", "I": 11.149, "P": 0}, {"s": "ii", "I": 11.117, "P": 0}, {"s": "ii", "I": 11.085, "P": 0.19}, {"s": "ii", "I": 11.055, "P": 1.05}, {"s": "ii", "I": 11.026, "P": 2.38}, {"s": "ii", "I": 10.994, "P": 4.19}, {"s": "ii", "I": 10.963, "P": 4.32}, {"s": "ii", "I": 10.931, "P": 4.19}, {"s": "ii", "I": 10.899, "P": 3.94}, {"s": "ii", "I": 10.864, "P": 3.62}, {"s": "ii", "I": 10.832, "P": 3.33}, {"s": "ii", "I": 10.801, "P": 2.8}, {"s": "ii", "I": 10.769, "P": 2.19}, {"s": "ii", "I": 10.739, "P": 1.14}, {"s": "ii", "I": 10.707, "P": 0.7}, {"s": "ii", "I": 10.675, "P": 0.48}, {"s": "ii", "I": 10.645, "P": 0.38}, {"s": "ii", "I": 10.614, "P": 0.48}, {"s": "ii", "I": 10.584, "P": 0.32}, {"s": "ii", "I": 10.553, "P": 0.19}, {"s": "ii", "I": 10.521, "P": 0.13}, {"s": "ii", "I": 10.489, "P": 0.06}, {"s": "ii", "I": 10.461, "P": 0}
              ]},
              "layer": [
                {
                  "mark": {"type": "line", "strokeWidth": 2.6, "clip": true},
                  "encoding": {
                    "x": {"field": "I", "type": "quantitative", "scale": {"domain": [10.457, 11.261], "reverse": true, "nice": false, "zero": false},
                      "axis": {"values": [10.6, 10.8, 11, 11.2], "format": "~g", "labelFontSize": 13, "title": "Iₛ (μA)", "titlePadding": 3}},
                    "y": {"field": "P", "type": "quantitative", "scale": {"domain": [0, 11.9], "nice": false},
                      "axis": {"orient": "right", "values": [0, 2, 4, 6, 8, 10], "labelFontSize": 13, "title": "P(I) (μA⁻¹)", "titleFontSize": 14, "titlePadding": 7}},
                    "color": {"field": "s", "type": "nominal", "scale": {"domain": ["i", "iii", "ii"], "range": ["#8e8e8e", "#111111", "#f47b20"]}, "legend": null}
                  }
                },
                {
                  "transform": [{"filter": "datum.s != 'ii'"}],
                  "mark": {"type": "point", "shape": "M-1,-1L1,1M-1,1L1,-1M-1,0L1,0", "size": 45, "strokeWidth": 1.5, "filled": false, "opacity": 1, "clip": true},
                  "encoding": {
                    "x": {"field": "I", "type": "quantitative", "scale": {"domain": [10.457, 11.261], "reverse": true, "nice": false, "zero": false}},
                    "y": {"field": "P", "type": "quantitative", "scale": {"domain": [0, 11.9], "nice": false}},
                    "color": {"field": "s", "type": "nominal", "scale": {"domain": ["i", "iii", "ii"], "range": ["#8e8e8e", "#111111", "#f47b20"]}, "legend": null}
                  }
                },
                {
                  "transform": [{"filter": "datum.s == 'ii'"}],
                  "mark": {"type": "circle", "size": 55, "opacity": 1, "color": "#f47b20", "clip": true},
                  "encoding": {
                    "x": {"field": "I", "type": "quantitative", "scale": {"domain": [10.457, 11.261], "reverse": true, "nice": false, "zero": false}},
                    "y": {"field": "P", "type": "quantitative", "scale": {"domain": [0, 11.9], "nice": false}}
                  }
                }
              ]
            },
            {
              "data": {"values": [{}]},
              "mark": {"type": "text", "text": ["(i)", "Dark", "27 mK"], "color": "#8e8e8e", "fontSize": 12.5, "align": "center", "baseline": "middle", "lineHeight": 14},
              "encoding": {
                "x": {"datum": 11.149, "type": "quantitative", "scale": {"domain": [10.457, 11.261], "reverse": true, "nice": false, "zero": false}},
                "y": {"datum": 9.9, "type": "quantitative", "scale": {"domain": [0, 11.9], "nice": false}}
              }
            },
            {
              "data": {"values": [{}]},
              "mark": {"type": "text", "text": ["Dark", "325 mK"], "color": "#222", "fontSize": 12.5, "align": "center", "baseline": "middle", "lineHeight": 14},
              "encoding": {
                "x": {"datum": 10.705, "type": "quantitative", "scale": {"domain": [10.457, 11.261], "reverse": true, "nice": false, "zero": false}},
                "y": {"datum": 8.76, "type": "quantitative", "scale": {"domain": [0, 11.9], "nice": false}}
              }
            },
            {
              "data": {"values": [{}]},
              "mark": {"type": "text", "text": "(iii)", "color": "#222", "fontSize": 12.5, "fontStyle": "italic", "align": "center", "baseline": "middle"},
              "encoding": {
                "x": {"datum": 10.581, "type": "quantitative", "scale": {"domain": [10.457, 11.261], "reverse": true, "nice": false, "zero": false}},
                "y": {"datum": 8.48, "type": "quantitative", "scale": {"domain": [0, 11.9], "nice": false}}
              }
            },
            {
              "data": {"values": [{}]},
              "mark": {"type": "text", "text": ["Light", "27 mK"], "color": "#f47b20", "fontSize": 12.5, "align": "center", "baseline": "middle", "lineHeight": 14},
              "encoding": {
                "x": {"datum": 10.681, "type": "quantitative", "scale": {"domain": [10.457, 11.261], "reverse": true, "nice": false, "zero": false}},
                "y": {"datum": 3.04, "type": "quantitative", "scale": {"domain": [0, 11.9], "nice": false}}
              }
            },
            {
              "data": {"values": [{}]},
              "mark": {"type": "text", "text": "(ii)", "color": "#f47b20", "fontSize": 12.5, "fontStyle": "italic", "align": "center", "baseline": "middle"},
              "encoding": {
                "x": {"datum": 10.566, "type": "quantitative", "scale": {"domain": [10.457, 11.261], "reverse": true, "nice": false, "zero": false}},
                "y": {"datum": 2.64, "type": "quantitative", "scale": {"domain": [0, 11.9], "nice": false}}
              }
            }
          ]
        }
      ]
    }
  ]
}
